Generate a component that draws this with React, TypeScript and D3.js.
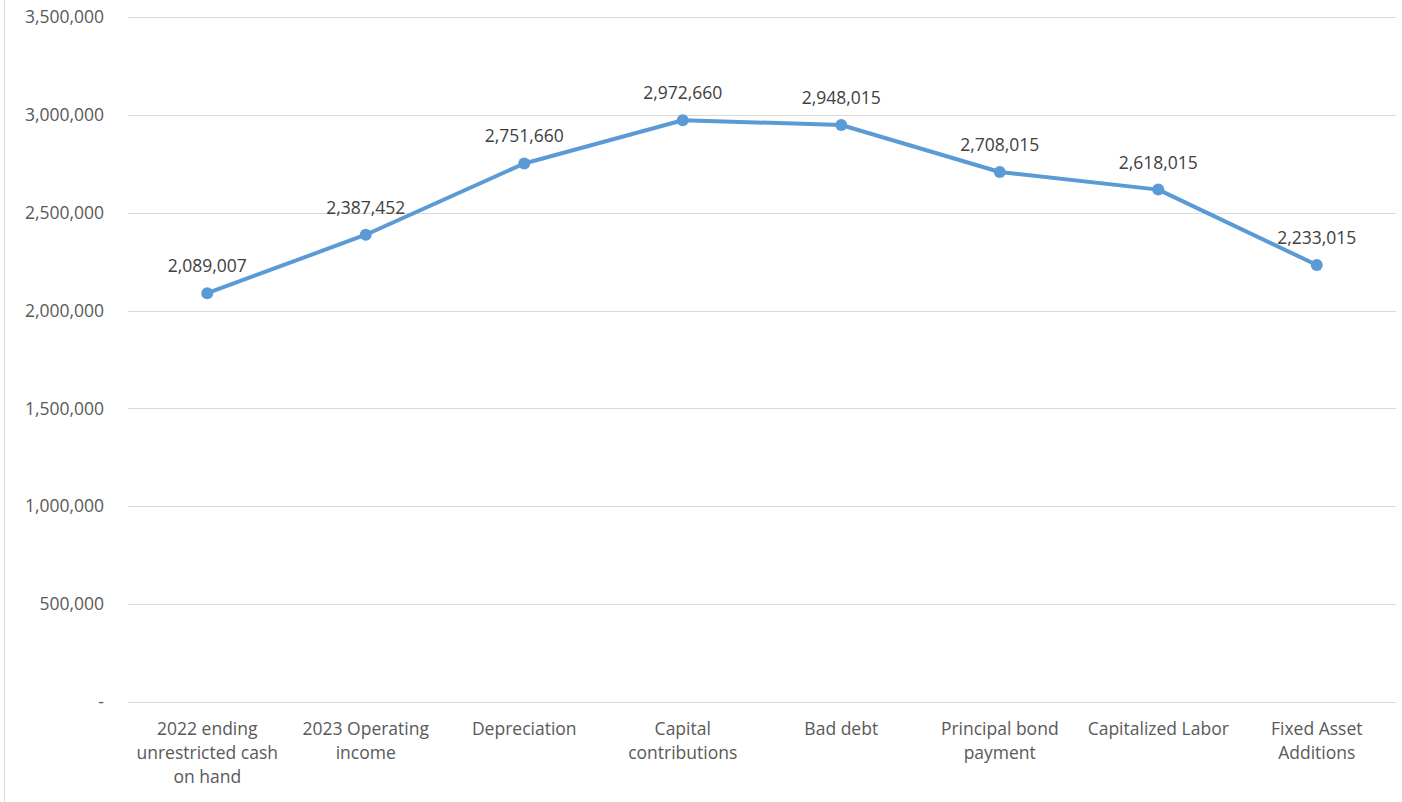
import React from "react";
import * as d3 from "d3";

const categories = [
  "2022 ending\nunrestricted cash\non hand",
  "2023 Operating\nincome",
  "Depreciation",
  "Capital\ncontributions",
  "Bad debt",
  "Principal bond\npayment",
  "Capitalized Labor",
  "Fixed Asset\nAdditions",
];
const values = [2089007, 2387452, 2751660, 2972660, 2948015, 2708015, 2618015, 2233015];
const yTicks = [0, 500000, 1000000, 1500000, 2000000, 2500000, 3000000, 3500000];

const W = 1402;
const H = 802;
const FONT = "'Open Sans', sans-serif";
const FS = 17.5;

export default function App() {
  const x = d3.scaleBand<number>().domain(d3.range(categories.length)).range([128, 1396]);
  const y = d3.scaleLinear().domain([0, 3500000]).range([702, 17]);
  const fmt = d3.format(",");
  const line = d3
    .line<number>()
    .x((_, i) => (x(i) as number) + x.bandwidth() / 2)
    .y((d) => y(d));

  return (
    <svg width={W} height={H} style={{ position: "absolute", left: 0, top: 0, background: "#fff" }}>
      <line x1={4.5} x2={4.5} y1={0} y2={H} stroke="#d9d9d9" strokeWidth={1} />
      {yTicks.map((t) => (
        <g key={t}>
          <line x1={128} x2={1396} y1={Math.round(y(t)) + 0.5} y2={Math.round(y(t)) + 0.5} stroke="#d9d9d9" strokeWidth={1} />
          <text
            x={104}
            y={y(t)}
            dy="0.35em"
            textAnchor="end"
            fontFamily={FONT}
            fontSize={FS}
            fill="#595959"
          >
            {t === 0 ? "-" : fmt(t)}
          </text>
        </g>
      ))}
      {categories.map((c, i) => (
        <text
          key={i}
          x={(x(i) as number) + x.bandwidth() / 2}
          y={735}
          textAnchor="middle"
          fontFamily={FONT}
          fontSize={FS}
          fill="#595959"
        >
          {c.split("\n").map((ln, j) => (
            <tspan key={j} x={(x(i) as number) + x.bandwidth() / 2} dy={j === 0 ? 0 : 24}>
              {ln}
            </tspan>
          ))}
        </text>
      ))}
      <path d={line(values) || ""} fill="none" stroke="#5b9bd5" strokeWidth={4} strokeLinejoin="round" strokeLinecap="round" />
      {values.map((v, i) => (
        <g key={i}>
          <circle cx={(x(i) as number) + x.bandwidth() / 2} cy={y(v)} r={6} fill="#5b9bd5" />
          <text
            x={(x(i) as number) + x.bandwidth() / 2}
            y={y(v) - 21}
            textAnchor="middle"
            fontFamily={FONT}
            fontSize={FS}
            fill="#404040"
          >
            {fmt(v)}
          </text>
        </g>
      ))}
    </svg>
  );
}
